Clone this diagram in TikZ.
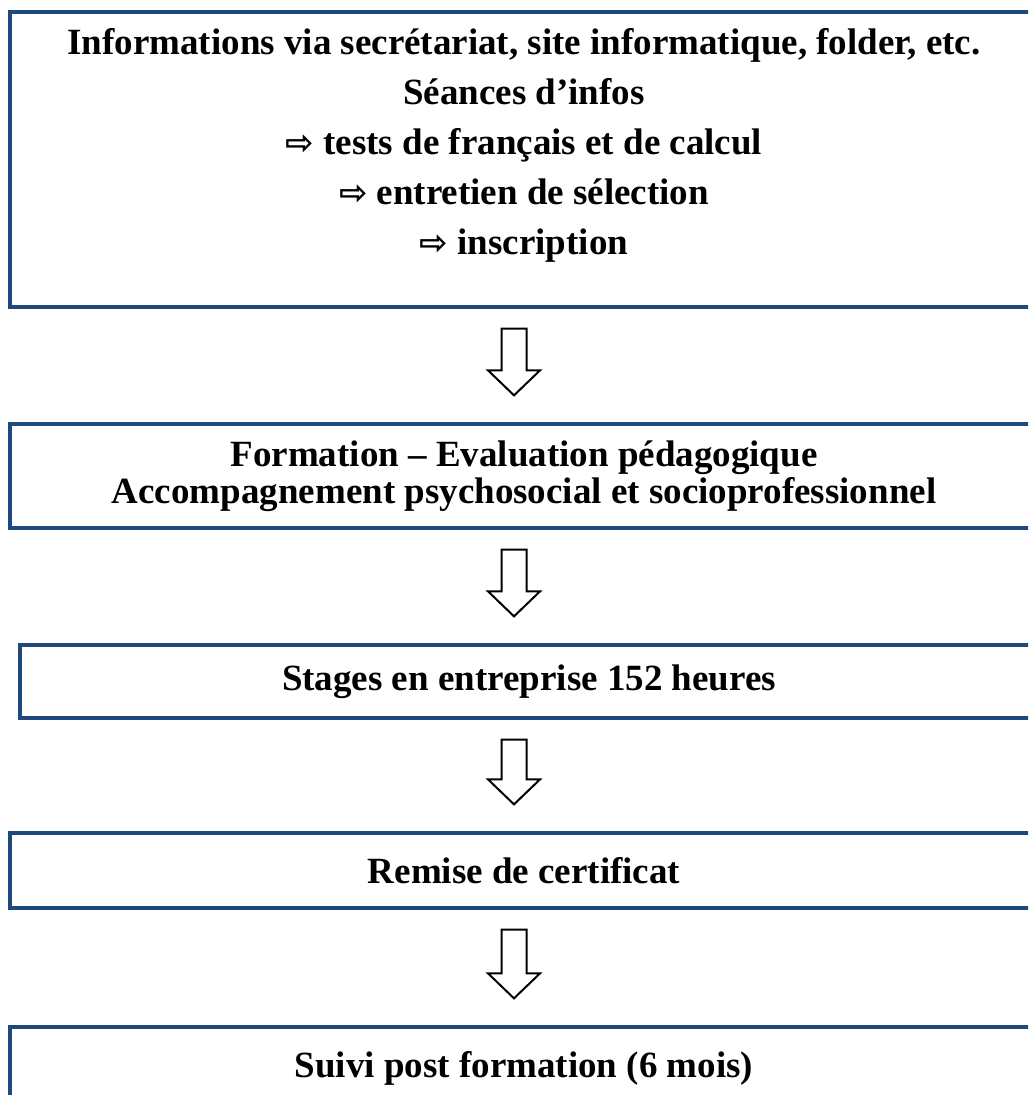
\documentclass[tikz,border=0pt]{standalone}
\usepackage{fontspec}
\setmainfont{Liberation Serif}
\newfontfamily\symbfont{DejaVu Sans}
\usetikzlibrary{calc}
\definecolor{boxblue}{RGB}{31,73,125}
\tikzset{
    stage/.style={draw=boxblue, line width=1.65pt, rectangle, minimum width=514pt,
        inner sep=0pt, align=center, font=\bfseries\fontsize{18.5}{18.5}\selectfont},
    hollow/.style={draw=black, fill=white, line width=1pt, line join=miter},
}
\newcommand{\thenarrow}{{\symbfont\fontsize{17}{17}\selectfont ⇨}\ }

\begin{document}
\begin{tikzpicture}[x=1pt,y=1pt]
    \path[use as bounding box] (0,0) rectangle (514,-547.5);
    \clip (0,0) rectangle (514,-547.5);
    \coordinate (axis) at (257,0);
    % boxes
    \node[stage, minimum height=147.5pt] (b1) at (262,-79.75) {};
    \node[font=\bfseries\fontsize{18.5}{25}\selectfont, align=center] (t1) at (262,-72.5)
        {Informations via secrétariat, site informatique, folder, etc.\\
         Séances d’infos\\
         \thenarrow tests de français et de calcul\\
         \thenarrow entretien de sélection\\
         \thenarrow inscription};
    \node[stage, minimum height=52pt] (b2) at (262,-238)
        {Formation – Evaluation pédagogique\\Accompagnement psychosocial et socioprofessionnel};
    \node[stage, minimum width=509pt, minimum height=36.5pt] (b3) at (264.5,-340.75)
        {Stages en entreprise 152 heures};
    \node[stage, minimum height=37.5pt] (b4) at (262,-435.25) {Remise de certificat};
    \node[stage, minimum height=41pt] (b5) at (262,-534) {Suivi post formation (6 mois)};
    % block arrows
    \foreach \a/\b in {b1/b2,b2/b3,b3/b4,b4/b5}{
        \draw[hollow] ($(\a.south -| axis)+(-6.25,-10)$) -- ($(\b.north -| axis)+(-6.25,26)$)
            --++(-6.75,0) -- ($(\b.north -| axis)+(0,13.5)$) --++(13,12.5) --++(-6.75,0)
            -- ($(\a.south -| axis)+(6.25,-10)$) -- cycle;
    }
\end{tikzpicture}
\end{document}
